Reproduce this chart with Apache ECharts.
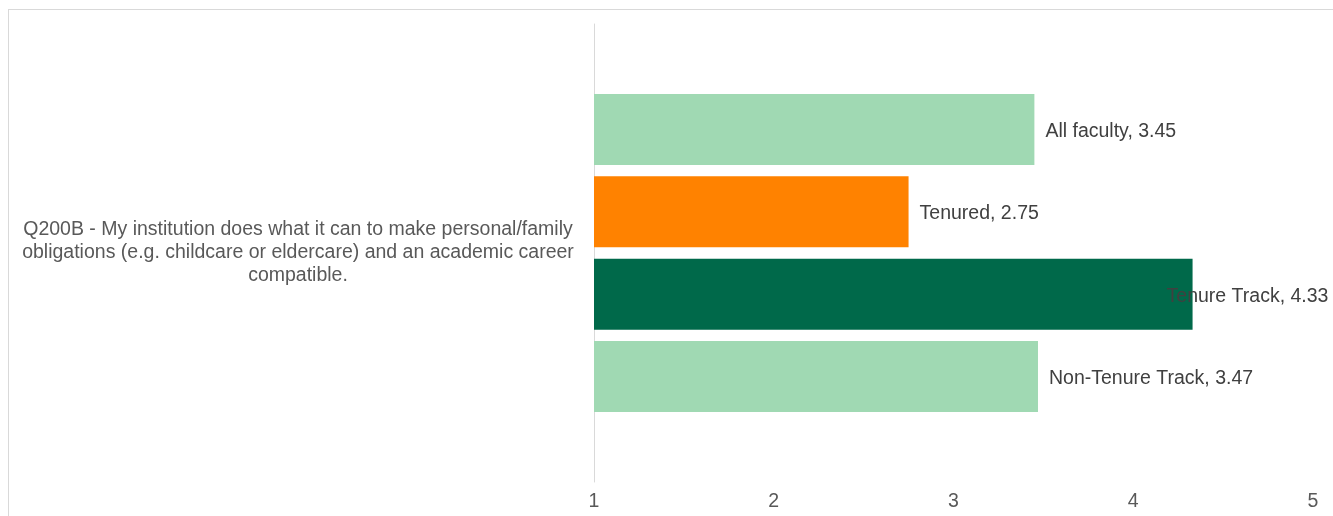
<!DOCTYPE html>
<html>
<head>
<meta charset="utf-8">
<script src="https://cdn.jsdelivr.net/npm/echarts@6/dist/echarts.min.js"></script>
<style>
  html, body { margin: 0; padding: 0; background: #fff; overflow: hidden; }
  #frame { position: absolute; left: 8px; top: 9px; width: 1400px; height: 600px; border: 1px solid #d9d9d9; }
  #chart { position: absolute; left: 0; top: 0; width: 1333px; height: 516px; }
</style>
</head>
<body>
<div id="frame"></div>
<div id="chart"></div>
<script>
const categories = ['Q200B - My institution does what it can to make personal/family\nobligations (e.g. childcare or eldercare) and an academic career\ncompatible.'];
const seriesNames = ['All faculty', 'Tenured', 'Tenure Track', 'Non-Tenure Track'];
const seriesValues = [[3.45], [2.75], [4.33], [3.47]];
const seriesColors = ['#a0d9b3', '#ff8200', '#00694a', '#a0d9b3'];
const xTicks = [1, 2, 3, 4, 5];

const FONT = 'Liberation Sans, Arial, sans-serif';
const chart = echarts.init(document.getElementById('chart'));

const series = seriesNames.map((name, i) => ({
    name: name,
    type: 'bar',
    data: seriesValues[i],
    barWidth: 71,
    barGap: '16%',
    itemStyle: { color: seriesColors[i] },
    label: {
        show: true,
        position: 'right',
        distance: i === 2 ? -26 : 11,
        offset: [0, 2],
        color: '#404040',
        fontSize: 19.5,
        fontFamily: FONT,
        formatter: (p) => p.seriesName + ', ' + p.value.toFixed(2)
    }
}));

chart.setOption({
    animation: false,
    grid: { left: 594, right: 20, top: 24, bottom: 34, containLabel: false },
    xAxis: {
        type: 'value',
        min: xTicks[0],
        max: xTicks[xTicks.length - 1],
        interval: 1,
        axisLine: { show: false },
        axisTick: { show: false },
        splitLine: { show: false },
        axisLabel: {
            color: '#595959',
            fontSize: 19.5,
            fontFamily: FONT,
            margin: 10
        }
    },
    yAxis: {
        type: 'category',
        data: categories,
        inverse: true,
        axisLine: { show: true, lineStyle: { color: '#d9d9d9', width: 1 } },
        axisTick: { show: false },
        axisLabel: {
            color: '#595959',
            fontSize: 19.5,
            lineHeight: 23,
            align: 'center',
            margin: 296,
            fontFamily: FONT
        }
    },
    series: series
});
</script>
</body>
</html>
